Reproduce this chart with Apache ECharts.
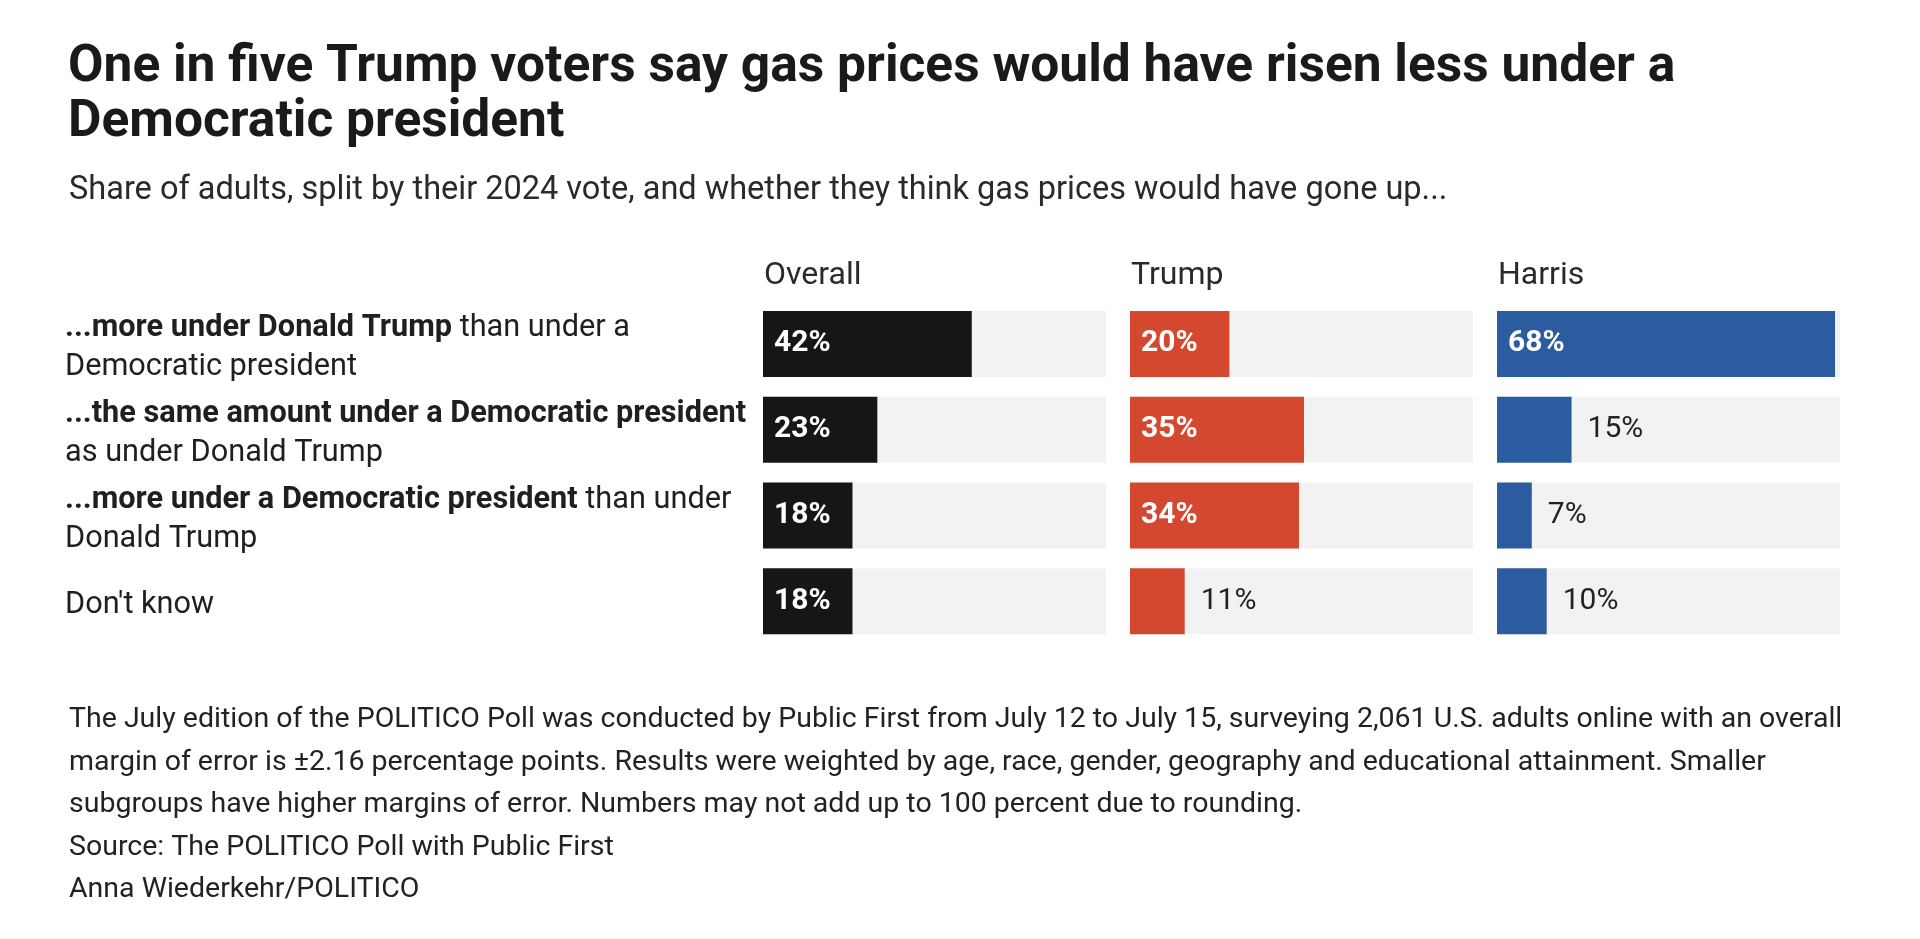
<!DOCTYPE html>
<html lang="en">
<head>
    <meta charset="UTF-8">
    <title>Gas prices poll</title>
    <script src="https://cdn.jsdelivr.net/npm/echarts@6.0.0/dist/echarts.min.js"></script>
    <style>
        * { margin: 0; padding: 0; }
        body { background: #ffffff; }
        #chart { width: 1920px; height: 939px; }
    </style>
</head>
<body>
    <div id="chart"></div>
    <script>
        // data
        var rowBold = [
            '...more under Donald Trump',
            '...the same amount under a Democratic president',
            '...more under a Democratic president',
            ''
        ];
        var rowPlain = [
            [' than under a', 'Democratic president'],
            ['', 'as under Donald Trump'],
            [' than under', 'Donald Trump'],
            ["Don't know"]
        ];
        var columnNames = ['Overall', 'Trump', 'Harris'];
        var overallValues = [42, 23, 18, 18];
        var trumpValues = [20, 35, 34, 11];
        var harrisValues = [68, 15, 7, 10];

        var FONT = 'Roboto';
        var colors = ['#161616', '#d3482e', '#2b5c9f'];
        var columns = [overallValues, trumpValues, harrisValues];
        var gridLefts = [763, 1130, 1497];
        var colWidth = 343;

        var rowKeys = rowBold.map(function (b, i) { return 'r' + i; });

        function rowLabel(value) {
            var i = rowKeys.indexOf(value);
            var plain = rowPlain[i];
            if (!rowBold[i]) return plain.map(function (t) { return '{r|' + t + '}'; }).join('\n');
            var first = '{b|' + rowBold[i] + '}' + (plain[0] ? '{r|' + plain[0] + '}' : '');
            return [first].concat(plain.slice(1).map(function (t) { return '{r|' + t + '}'; })).join('\n');
        }

        var grids = [], xAxes = [], yAxes = [], series = [], titles = [];

        titles.push({
            text: 'One in five Trump voters say gas prices would have risen less under a\nDemocratic president',
            left: 63, top: 36,
            textStyle: { fontFamily: FONT, fontSize: 51.5, fontWeight: 'bold', color: '#1a1a1a', lineHeight: 55 }
        });
        titles.push({
            text: 'Share of adults, split by their 2024 vote, and whether they think gas prices would have gone up...',
            left: 64, top: 169,
            textStyle: { fontFamily: FONT, fontSize: 32.5, fontWeight: 'normal', color: '#2a2a2a' }
        });
        titles.push({
            text: [
                'The July edition of the POLITICO Poll was conducted by Public First from July 12 to July 15, surveying 2,061 U.S. adults online with an overall',
                'margin of error is \u00b12.16 percentage points. Results were weighted by age, race, gender, geography and educational attainment. Smaller',
                'subgroups have higher margins of error. Numbers may not add up to 100 percent due to rounding.',
                'Source: The POLITICO Poll with Public First',
                'Anna Wiederkehr/POLITICO'
            ].join('\n'),
            left: 64, top: 694,
            textStyle: { fontFamily: FONT, fontSize: 28.5, fontWeight: 'normal', color: '#222222', lineHeight: 42.5 }
        });

        columns.forEach(function (vals, c) {
            grids.push({ left: gridLefts[c], width: colWidth, top: 301, height: 343 });
            xAxes.push({ type: 'value', gridIndex: c, min: 0, max: 69, show: false });
            yAxes.push({
                type: 'category', gridIndex: c, data: rowKeys, inverse: true,
                axisLine: { show: false }, axisTick: { show: false }, splitLine: { show: false },
                axisLabel: c === 0 ? {
                    show: true, align: 'left', margin: gridLefts[0] - 65,
                    padding: [8, 0, 0, 0],
                    formatter: rowLabel,
                    rich: {
                        b: { fontFamily: FONT, fontSize: 30.7, fontWeight: 'bold', color: '#1f1f1f', lineHeight: 39 },
                        r: { fontFamily: FONT, fontSize: 30.7, fontWeight: 'normal', color: '#1f1f1f', lineHeight: 39 }
                    }
                } : { show: false }
            });
            titles.push({
                text: columnNames[c], left: gridLefts[c] - 4, top: 255,
                textStyle: { fontFamily: FONT, fontSize: 32, fontWeight: 'normal', color: '#2a2a2a' }
            });
            series.push({
                type: 'bar', xAxisIndex: c, yAxisIndex: c,
                barWidth: 66,
                showBackground: true,
                backgroundStyle: { color: '#f2f2f2' },
                itemStyle: { color: colors[c] },
                silent: true,
                data: vals.map(function (v) {
                    var inside = v >= 18;
                    return {
                        value: v,
                        label: {
                            show: true,
                            position: inside ? 'insideLeft' : 'right',
                            distance: inside ? 11 : 16,
                            formatter: v + '%',
                            fontFamily: FONT,
                            fontSize: 30,
                            fontWeight: inside ? 'bold' : 'normal',
                            color: inside ? '#ffffff' : '#222222'
                        }
                    };
                })
            });
        });

        var chart = echarts.init(document.getElementById('chart'));
        chart.setOption({
            backgroundColor: '#ffffff',
            animation: false,
            title: titles,
            grid: grids,
            xAxis: xAxes,
            yAxis: yAxes,
            series: series
        });
    </script>
</body>
</html>
